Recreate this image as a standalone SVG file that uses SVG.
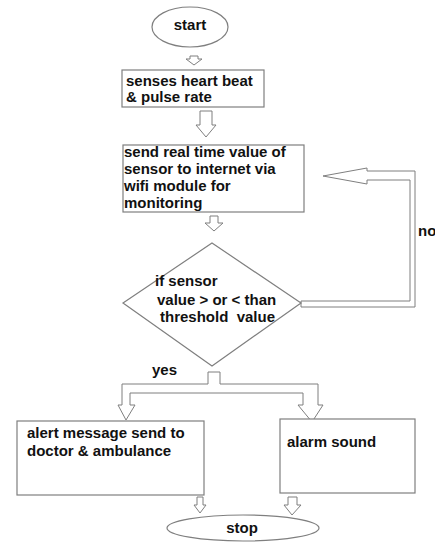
<svg xmlns="http://www.w3.org/2000/svg" width="435" height="542" viewBox="0 0 435 542">
<style>
.s{fill:#fff;stroke:#7f7f7f;stroke-width:1.2}
.a{fill:#fff;stroke:#7f7f7f;stroke-width:1}
text{font-family:"Liberation Sans",Arial,sans-serif;font-weight:bold;font-size:15px;fill:#111}
</style>
<rect width="435" height="542" fill="#fff"/>
<g id="connectors">
<path class="a" d="M190,56 H198 V59 H202 L194,65 L186,59 H190 Z"/>
<path class="a" d="M200,111 H212 V125 H216 L206,137 L196,125 H200 Z"/>
<path class="a" d="M210,216 H218 V223 H223 L214,231 L205,223 H210 Z"/>
<path class="a" d="M301,307 H415 V171 H367 V168 L323,176 L367,184 V180 H410 V301 H301 Z"/>
<path class="a" d="M208,383 V372 H220 V384 H318 V405 H323 L312,422 L298,405 H303 V393 H130 V405 H135 L126,420 L118,405 H122 V384 H208 Z"/>
<path class="a" d="M197,497 H203 V505 H206 L200,513 L194,505 H197 Z"/>
<path class="a" d="M288,497 H297 V505 H301 L292,515 L284,505 H288 Z"/>
<text x="418" y="236">no</text>
<text x="152" y="375">yes</text>
</g>
<g id="start">
<ellipse class="s" cx="190" cy="27" rx="38" ry="20"/>
<text x="190" y="30" text-anchor="middle" font-size="12">start</text>
</g>
<g id="sense">
<rect class="s" x="122" y="70" width="142" height="37"/>
<text x="126" y="86">senses heart beat</text>
<text x="126" y="102">&amp; pulse rate</text>
</g>
<g id="send">
<rect class="s" x="123" y="145" width="181" height="67"/>
<text x="124" y="157">send real time value of</text>
<text x="124" y="174">sensor to internet via</text>
<text x="124" y="191">wifi module for</text>
<text x="124" y="208">monitoring</text>
</g>
<g id="decision">
<path class="s" d="M212,243 L301,303 L212,366 L123,303 Z"/>
<text x="155" y="286">if sensor</text>
<text x="157" y="305">value &gt; or &lt; than</text>
<text x="160" y="322" xml:space="preserve">threshold  value</text>
</g>
<g id="alert">
<rect class="s" x="17" y="421" width="187" height="74"/>
<text x="27" y="438">alert message send to</text>
<text x="27" y="456">doctor &amp; ambulance</text>
</g>
<g id="alarm">
<rect class="s" x="280" y="419" width="135" height="74"/>
<text x="287" y="447">alarm sound</text>
</g>
<g id="stop">
<ellipse class="s" cx="243" cy="528" rx="76" ry="13"/>
<text x="242" y="533" text-anchor="middle">stop</text>
</g>
</svg>
